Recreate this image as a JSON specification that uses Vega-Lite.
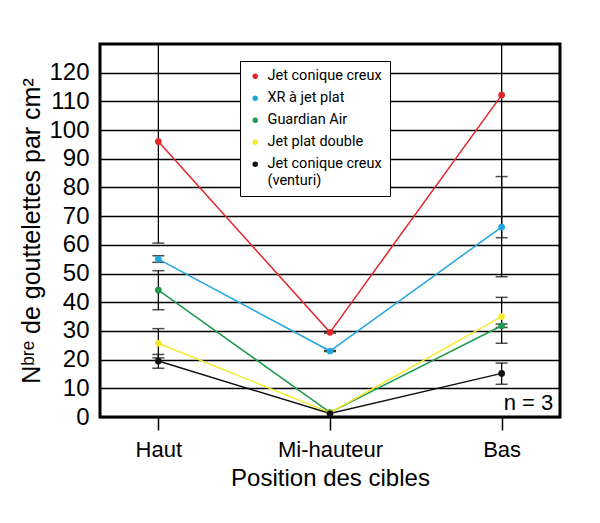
{
  "$schema": "https://vega.github.io/schema/vega-lite/v6.json",
  "width": 460,
  "height": 373,
  "autosize": "none",
  "padding": {"left": 100, "top": 44, "right": 40, "bottom": 106},
  "background": "white",
  "config": {
    "font": "Liberation Sans",
    "view": {"stroke": "black", "strokeWidth": 3},
    "axis": {"labelColor": "black", "titleColor": "black", "titleFontWeight": "normal"},
    "axisY": {
      "grid": true,
      "gridColor": "black",
      "gridWidth": 1.3,
      "gridOpacity": 1,
      "ticks": false,
      "domain": false,
      "labelFontSize": 24,
      "labelPadding": 11,
      "labelOverlap": false,
      "titleFontSize": 25,
      "titlePadding": 4
    }
  },
  "data": {
    "values": [
      {"position": "Haut", "series": "Jet conique creux", "value": 96, "low": 60.6, "high": 131.4},
      {"position": "Haut", "series": "XR à jet plat", "value": 55, "low": 53.9, "high": 56.2},
      {"position": "Haut", "series": "Guardian Air", "value": 44.2, "low": 37.4, "high": 51},
      {"position": "Haut", "series": "Jet plat double", "value": 25.7, "low": 20.6, "high": 30.8},
      {"position": "Haut", "series": "Jet conique creux (venturi)", "value": 19.5, "low": 17, "high": 21.8},
      {"position": "Mi-hauteur", "series": "Jet conique creux", "value": 29.5, "low": 29.2, "high": 29.8},
      {"position": "Mi-hauteur", "series": "XR à jet plat", "value": 23, "low": 22.8, "high": 23.2},
      {"position": "Mi-hauteur", "series": "Guardian Air", "value": 1.6, "low": null, "high": null},
      {"position": "Mi-hauteur", "series": "Jet plat double", "value": 1.5, "low": null, "high": null},
      {"position": "Mi-hauteur", "series": "Jet conique creux (venturi)", "value": 1.2, "low": null, "high": null},
      {"position": "Bas", "series": "Jet conique creux", "value": 112.2, "low": 62.5, "high": 161.9},
      {"position": "Bas", "series": "XR à jet plat", "value": 66.2, "low": 48.9, "high": 83.8},
      {"position": "Bas", "series": "Guardian Air", "value": 31.8, "low": 31.2, "high": 32.4},
      {"position": "Bas", "series": "Jet plat double", "value": 35, "low": 25.7, "high": 41.7},
      {"position": "Bas", "series": "Jet conique creux (venturi)", "value": 15.2, "low": 11.4, "high": 18.8}
    ]
  },
  "encoding": {
    "x": {
      "field": "position",
      "type": "nominal",
      "scale": {"type": "point", "padding": 0.34, "domain": ["Haut", "Mi-hauteur", "Bas"]},
      "title": "Position des cibles",
      "axis": {
        "labelAngle": 0,
        "labelFontSize": 22,
        "labelPadding": 9,
        "titleFontSize": 24,
        "titlePadding": 6,
        "domain": false,
        "ticks": true,
        "tickSize": 13,
        "tickColor": "black",
        "tickWidth": 1.5,
        "grid": false
      }
    }
  },
  "layer": [
    {
      "mark": {"type": "rule", "color": "black", "strokeWidth": 1.3, "clip": true},
      "encoding": {
        "y": {
          "field": "low",
          "type": "quantitative",
          "scale": {"domain": [0, 130], "nice": false},
          "title": "Nᵇʳᵉ de gouttelettes par cm²",
          "axis": {"values": [0, 10, 20, 30, 40, 50, 60, 70, 80, 90, 100, 110, 120]}
        },
        "y2": {"field": "high"}
      }
    },
    {
      "mark": {"type": "tick", "color": "black", "size": 12, "thickness": 1.5, "clip": true},
      "encoding": {
        "y": {
          "field": "low",
          "type": "quantitative",
          "title": "Nᵇʳᵉ de gouttelettes par cm²",
          "axis": {"values": [0, 10, 20, 30, 40, 50, 60, 70, 80, 90, 100, 110, 120]}
        }
      }
    },
    {
      "mark": {"type": "tick", "color": "black", "size": 12, "thickness": 1.5, "clip": true},
      "encoding": {
        "y": {
          "field": "high",
          "type": "quantitative",
          "title": "Nᵇʳᵉ de gouttelettes par cm²",
          "axis": {"values": [0, 10, 20, 30, 40, 50, 60, 70, 80, 90, 100, 110, 120]}
        }
      }
    },
    {
      "mark": {"type": "line", "strokeWidth": 1.5},
      "encoding": {
        "y": {
          "field": "value",
          "type": "quantitative",
          "title": "Nᵇʳᵉ de gouttelettes par cm²",
          "axis": {"values": [0, 10, 20, 30, 40, 50, 60, 70, 80, 90, 100, 110, 120]}
        },
        "color": {
          "field": "series",
          "type": "nominal",
          "scale": {
            "domain": ["Jet conique creux", "XR à jet plat", "Guardian Air", "Jet plat double", "Jet conique creux (venturi)"],
            "range": ["#e1262b", "#22a7dc", "#1f9a50", "#f4ea2c", "#111111"]
          },
          "legend": {
            "title": null,
            "orient": "none",
            "legendX": 140,
            "legendY": 17,
            "padding": 8,
            "strokeColor": "black",
            "fillColor": "white",
            "symbolType": "circle",
            "symbolSize": 30,
            "symbolOpacity": 1,
            "symbolStrokeWidth": 0,
            "labelFont": "Roboto",
            "labelFontSize": 14.5,
            "labelColor": "black",
            "labelOffset": 5,
            "rowPadding": 7,
            "labelLimit": 200,
            "labelExpr": "datum.label == 'Jet conique creux (venturi)' ? ['Jet conique creux', '(venturi)'] : datum.label"
          }
        }
      }
    },
    {
      "mark": {"type": "circle", "size": 45, "opacity": 1},
      "encoding": {
        "y": {
          "field": "value",
          "type": "quantitative",
          "title": "Nᵇʳᵉ de gouttelettes par cm²",
          "axis": {"values": [0, 10, 20, 30, 40, 50, 60, 70, 80, 90, 100, 110, 120]}
        },
        "color": {"field": "series", "type": "nominal"}
      }
    },
    {
      "data": {"values": [{"note": "n = 3", "px": "Bas", "py": 2.5}]},
      "mark": {"type": "text", "fontSize": 22, "align": "left", "baseline": "alphabetic", "dx": 2, "color": "black"},
      "encoding": {
        "x": {"field": "px", "type": "nominal"},
        "y": {
          "field": "py",
          "type": "quantitative",
          "title": "Nᵇʳᵉ de gouttelettes par cm²",
          "axis": {"values": [0, 10, 20, 30, 40, 50, 60, 70, 80, 90, 100, 110, 120]}
        },
        "text": {"field": "note"}
      }
    }
  ]
}
